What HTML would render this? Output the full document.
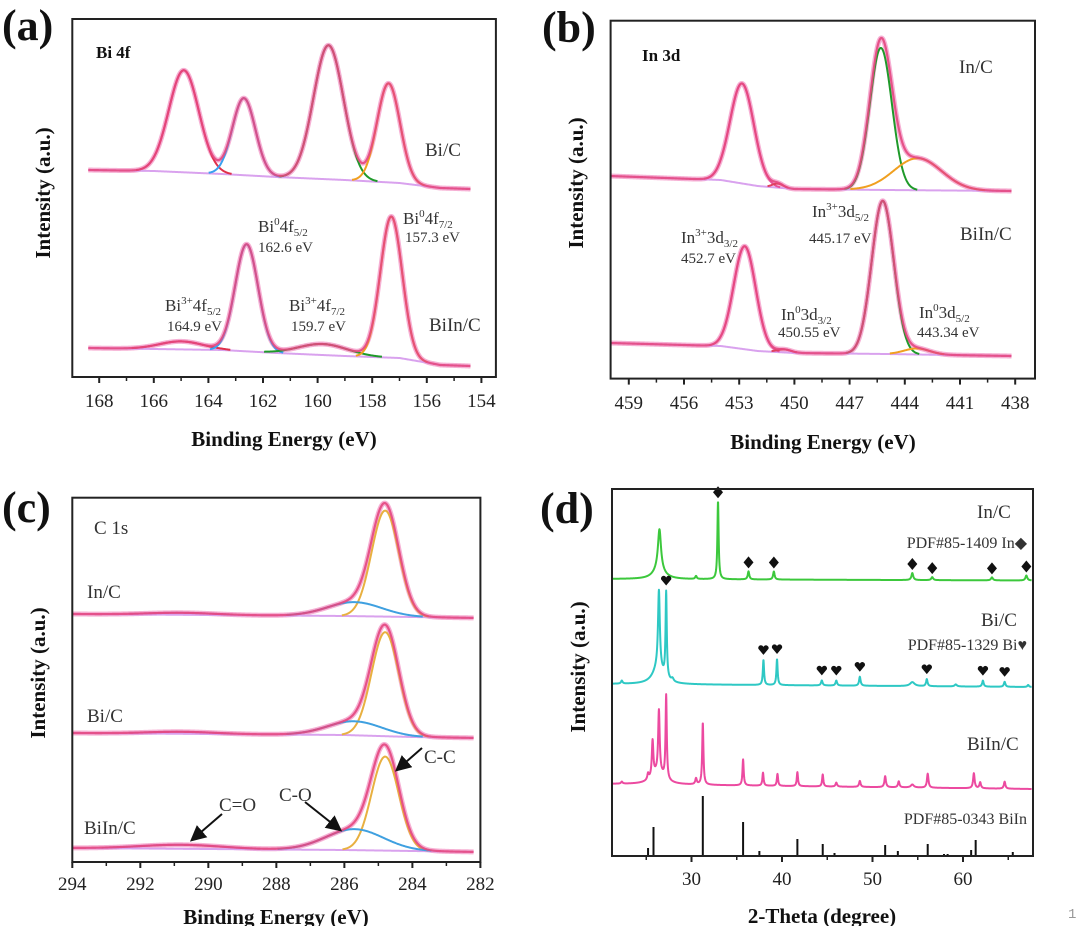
<!DOCTYPE html>
<html><head><meta charset="utf-8"><style>
html,body{margin:0;padding:0;background:#fff;}
svg{display:block;font-family:"Liberation Serif",serif;}
.tl{font-size:19px;fill:#222;}
.ttl{font-size:21px;font-weight:bold;fill:#111;}
.pl{font-size:44px;font-weight:bold;fill:#111;}
.ann{font-size:17px;fill:#333;}
.ev{font-size:15px;fill:#333;}
.lab{font-size:19px;fill:#333;}
</style></head><body>
<svg id="fig" width="1080" height="926" viewBox="0 0 1080 926" xmlns="http://www.w3.org/2000/svg">
<defs><marker id="ah" markerWidth="8" markerHeight="8" refX="6" refY="4" orient="auto"><path d="M0,0 L8,4 L0,8 z" fill="#111"/></marker></defs>
<g id="gA"></g>
<g id="gB"></g>
<g id="gC"></g>
<g id="gD"></g>
<rect x="72.3" y="19" width="423.6" height="358" fill="none" stroke="#222" stroke-width="2"/>
<rect x="610.6" y="20.7" width="424.4" height="357.9" fill="none" stroke="#222" stroke-width="2"/>
<rect x="72.3" y="497.7" width="408.1" height="364.3" fill="none" stroke="#222" stroke-width="2"/>
<rect x="612" y="489" width="421" height="367" fill="none" stroke="#222" stroke-width="2"/>
<text class="pl" x="2" y="40">(a)</text>
<text class="pl" x="542" y="42">(b)</text>
<text class="pl" x="2" y="522">(c)</text>
<text class="pl" x="540" y="523">(d)</text>
<text class="ttl" x="284" y="446" text-anchor="middle">Binding Energy (eV)</text>
<text class="ttl" x="823" y="449" text-anchor="middle">Binding Energy (eV)</text>
<text class="ttl" x="276" y="924" text-anchor="middle">Binding Energy (eV)</text>
<text class="ttl" x="822" y="923" text-anchor="middle">2-Theta (degree)</text>
<text class="ttl" transform="translate(50,193) rotate(-90)" text-anchor="middle">Intensity (a.u.)</text>
<text class="ttl" transform="translate(583,183) rotate(-90)" text-anchor="middle">Intensity (a.u.)</text>
<text class="ttl" transform="translate(45,673) rotate(-90)" text-anchor="middle">Intensity (a.u.)</text>
<text class="ttl" transform="translate(585,667) rotate(-90)" text-anchor="middle">Intensity (a.u.)</text>
<!-- panel a text -->
<text x="96" y="58" font-size="17" font-weight="bold" fill="#111">Bi 4f</text>
<text class="lab" x="425" y="156">Bi/C</text>
<text class="lab" x="429" y="331">BiIn/C</text>
<text class="ann" x="258" y="232">Bi<tspan dy="-7" font-size="11">0</tspan><tspan dy="7">4f</tspan><tspan dy="4" font-size="11">5/2</tspan></text>
<text class="ev" x="258" y="252">162.6 eV</text>
<text class="ann" x="403" y="224">Bi<tspan dy="-7" font-size="11">0</tspan><tspan dy="7">4f</tspan><tspan dy="4" font-size="11">7/2</tspan></text>
<text class="ev" x="405" y="242">157.3 eV</text>
<text class="ann" x="165" y="311">Bi<tspan dy="-7" font-size="11">3+</tspan><tspan dy="7">4f</tspan><tspan dy="4" font-size="11">5/2</tspan></text>
<text class="ev" x="167" y="331">164.9 eV</text>
<text class="ann" x="289" y="311">Bi<tspan dy="-7" font-size="11">3+</tspan><tspan dy="7">4f</tspan><tspan dy="4" font-size="11">7/2</tspan></text>
<text class="ev" x="291" y="331">159.7 eV</text>
<!-- panel b text -->
<text x="642" y="61" font-size="17" font-weight="bold" fill="#111">In 3d</text>
<text class="lab" x="959" y="73">In/C</text>
<text class="lab" x="960" y="240">BiIn/C</text>
<text class="ann" x="812" y="217">In<tspan dy="-7" font-size="11">3+</tspan><tspan dy="7">3d</tspan><tspan dy="4" font-size="11">5/2</tspan></text>
<text class="ev" x="809" y="243">445.17 eV</text>
<text class="ann" x="681" y="243">In<tspan dy="-7" font-size="11">3+</tspan><tspan dy="7">3d</tspan><tspan dy="4" font-size="11">3/2</tspan></text>
<text class="ev" x="681" y="263">452.7 eV</text>
<text class="ann" x="781" y="320">In<tspan dy="-7" font-size="11">0</tspan><tspan dy="7">3d</tspan><tspan dy="4" font-size="11">3/2</tspan></text>
<text class="ev" x="778" y="337">450.55 eV</text>
<text class="ann" x="919" y="318">In<tspan dy="-7" font-size="11">0</tspan><tspan dy="7">3d</tspan><tspan dy="4" font-size="11">5/2</tspan></text>
<text class="ev" x="917" y="337">443.34 eV</text>
<!-- panel c text -->
<text x="94" y="534" font-size="19" fill="#333">C 1s</text>
<text class="lab" x="87" y="598">In/C</text>
<text class="lab" x="87" y="722">Bi/C</text>
<text class="lab" x="84" y="834">BiIn/C</text>
<text class="lab" x="424" y="763">C-C</text>
<text class="lab" x="279" y="801">C-O</text>
<text class="lab" x="219" y="811">C=O</text>
<line x1="422" y1="748" x2="398" y2="769" stroke="#111" stroke-width="2" marker-end="url(#ah)"/>
<line x1="305" y1="802" x2="339" y2="829" stroke="#111" stroke-width="2" marker-end="url(#ah)"/>
<line x1="222" y1="814" x2="193" y2="839" stroke="#111" stroke-width="2" marker-end="url(#ah)"/>
<!-- panel d text -->
<text class="lab" x="977" y="518">In/C</text>
<text x="1027" y="548" font-size="16" fill="#333" text-anchor="end">PDF#85-1409 In◆</text>
<text class="lab" x="981" y="626">Bi/C</text>
<text x="1027" y="650" font-size="16" fill="#333" text-anchor="end">PDF#85-1329 Bi♥</text>
<text class="lab" x="967" y="750">BiIn/C</text>
<text x="1027" y="824" font-size="16" fill="#333" text-anchor="end">PDF#85-0343 BiIn</text>
<text x="1068" y="918" font-size="14" fill="#999" font-family="Liberation Mono, monospace">1</text>
</svg>
<script>
// ---------- Panel (a) Bi 4f data ----------
const aBgE=[168.4,166,163.5,161.5,159,157,155.5,154.4];
const aBgBiC=[207,206,203,200,197,194,189,188];
const aBgBiIn=[29,28,27,24,21,19,12,11];
const aCentBiC=[164.9,162.7,159.6,157.4];
const aAmpBiC=[102,77,134,99];
const aSigBiC=[0.55,0.42,0.55,0.42];
const aCentBiIn=[165.0,162.6,159.8,157.3];
const aAmpBiIn=[8,107,11,141];
const aSigBiIn=[0.8,0.42,0.9,0.4];
const aTicks=[168,166,164,162,160,158,156,154];
// ---------- Panel (b) In 3d data ----------
const bBgE=[460,454,452,450,445,438.2];
const bBgInC=[202.6,198.6,192.6,189.6,188.6,187.6];
const bBgBiIn=[35.6,32.6,27.6,25.6,24.6,22.6];
const bCentInC=[452.85,450.9,445.3,443.3];
const bAmpInC=[100,4,142,32];
const bSigInC=[0.65,0.3,0.6,1.3];
const bCentBiIn=[452.7,450.55,445.2,443.34];
const bAmpBiIn=[103,3,153,6];
const bSigBiIn=[0.6,0.4,0.6,0.7];
const bTicks=[459,456,453,450,447,444,441,438];
// ---------- Panel (c) C 1s data ----------
const cBgE=[294,286,284,282];
const cBgInC=[248,246,245,244];
const cBgBiC=[129,127,125,124];
const cBgBiIn=[14,12,11,10];
const cCent=[284.8,285.7,290.8];
const cAmpInC=[106,14,2];
const cAmpBiC=[104,14,2];
const cAmpBiIn=[94,21,4];
const cSig=[0.4,0.8,1.0];
const cSigBiIn=[0.4,0.85,1.2];
const cTicks=[294,292,290,288,286,284,282];
// ---------- Panel (d) XRD data ----------
const dTicks=[30,40,50,60];
const dInBase=[277,275.5];
const dInPos=[26.46,26.4,30.5,32.93,36.3,39.1,54.4,56.6,63.2,67.0];
const dInAmp=[40,10,3,78,8,8,7,3,3,5];
const dInHw=[0.2,0.7,0.1,0.08,0.1,0.1,0.12,0.12,0.12,0.12];
const dBiBase=[172,169];
const dBiPos=[26.4,26.3,27.2,22.3,27.9,37.95,39.45,44.4,46.0,48.6,54.4,56.0,59.2,62.2,64.6,67.2];
const dBiAmp=[78,16,86,3,3,25,26,5,5,9,4,7,2,6,5,2];
const dBiHw=[0.12,0.7,0.08,0.1,0.15,0.08,0.08,0.1,0.1,0.1,0.3,0.1,0.15,0.1,0.1,0.1];
const dBiInBase=[72,67];
const dBiInPos=[22.3,25.2,25.7,26.3,26.4,27.2,30.5,31.25,35.7,37.9,39.5,41.7,44.5,46.0,48.6,51.4,52.9,54.4,56.1,61.2,61.9,64.6];
const dBiInAmp=[2,6,36,12,62,84,6,62,26,13,12,14,12,4,6,11,6,3,14,15,6,7];
const dBiInHw=[0.1,0.1,0.1,0.8,0.1,0.08,0.1,0.08,0.08,0.08,0.08,0.08,0.08,0.1,0.1,0.1,0.1,0.2,0.1,0.1,0.1,0.1];
const dInMarks=[32.93,36.3,39.1,54.4,56.6,63.2,67.0];
const dBiMarks=[27.2,37.95,39.45,44.4,46.0,48.6,56.0,62.2,64.6];
const dStickPos=[25.2,25.8,31.25,35.7,37.5,41.7,44.5,45.8,51.4,52.8,56.1,57.9,58.3,60.9,61.4,65.5];
const dStickH=[8,29,60,34,5,17,12,3,11,5,12,2,2,6,16,4];

const NS='http://www.w3.org/2000/svg';
function mk(tag,attrs,parent){const e=document.createElementNS(NS,tag);for(const k in attrs)e.setAttribute(k,attrs[k]);parent.appendChild(e);return e;}
function lin(d0,d1,r0,r1){return v=>r0+(v-d0)*(r1-r0)/(d1-d0);}
function interp(x,E,B){for(let i=0;i<E.length-1;i++){const a=E[i],b=E[i+1];if((x-a)*(x-b)<=0){return B[i]+(B[i+1]-B[i])*(x-a)/(b-a);}}return x>Math.max(E[0],E[E.length-1])===(E[0]>E[1])?B[0]:B[B.length-1];}
function g(x,c,s){return Math.exp(-(x-c)*(x-c)/(2*s*s));}
function lor(x,c,w){const t=(x-c)/w;return 1/(1+t*t);}
function pathD(pts){return pts.map((p,i)=>(i?'L':'M')+p[0].toFixed(2)+','+p[1].toFixed(2)).join('');}

function ticks(parent,vals,minor,sx,yb,ylab,name){
  vals.forEach(v=>{
    const t=mk('line',{x1:sx(v),x2:sx(v),y1:yb,y2:yb+6,stroke:'#222','stroke-width':2},parent);
    
    
    const l=mk('text',{x:sx(v),y:ylab,'text-anchor':'middle',class:'tl'},parent);
    l.textContent=String(v);
    
    
  });
  minor.forEach(v=>{
    const t=mk('line',{x1:sx(v),x2:sx(v),y1:yb,y2:yb+4,stroke:'#222','stroke-width':1.5},parent);
    
    
  });
}

function xps(parent,sx,sy,e0,e1,bgE,bg,cent,amp,sig,colors,name){
  const n=600,pts=[],bgp=[];
  for(let i=0;i<=n;i++){const e=e0+(e1-e0)*i/n;const b=interp(e,bgE,bg);let s=0;cent.forEach((c,k)=>{s+=amp[k]*g(e,c,sig[k]);});pts.push([sx(e),sy(b+s)]);bgp.push([sx(e),sy(b)]);}
  const halo=mk('path',{d:pathD(pts),fill:'none',stroke:'#f6b0d4','stroke-width':5,'stroke-linejoin':'round'},parent);
  
  
  const bgl=mk('path',{d:pathD(bgp),fill:'none',stroke:'#d9a2ee','stroke-width':2},parent);
  
  
  cent.forEach((c,k)=>{
    const cp=[];
    for(let i=0;i<=n;i++){const e=e0+(e1-e0)*i/n;const v=amp[k]*g(e,c,sig[k]);if(v>0.6)cp.push([sx(e),sy(interp(e,bgE,bg)+v)]);}
    if(cp.length<2)return;
    const p=mk('path',{d:pathD(cp),fill:'none',stroke:colors[k],'stroke-width':2},parent);
    
    
  });
  const env=mk('path',{d:pathD(pts),fill:'none',stroke:'#e4487f','stroke-width':2.2,'stroke-opacity':0.9},parent);
  
  
}

// Panel A
(function(){
  const P=document.getElementById('gA');
  const sx=lin(168,154,99.2,481.4), sy=v=>377-v;
  ticks(P,aTicks,[167,165,163,161,159,157,155],sx,377,407,'panel-a-x');
  const col=['#e0304a','#3aa0f0','#1f9a2a','#f0a020'];
  xps(P,sx,sy,168.4,154.4,aBgE,aBgBiC,aCentBiC,aAmpBiC,aSigBiC,col,'bi-c');
  xps(P,sx,sy,168.4,154.4,aBgE,aBgBiIn,aCentBiIn,aAmpBiIn,aSigBiIn,col,'biin-c');
})();
// Panel B
(function(){
  const P=document.getElementById('gB');
  const sx=lin(459,438,628.8,1015.2), sy=v=>378.6-v;
  ticks(P,bTicks,[457.5,454.5,451.5,448.5,445.5,442.5,439.5],sx,378.6,409,'panel-b-x');
  const col=['#e8509a','#e04060','#1f9a2a','#f0a020'];
  xps(P,sx,sy,460,438.2,bBgE,bBgInC,bCentInC,bAmpInC,bSigInC,col,'in-c');
  xps(P,sx,sy,460,438.2,bBgE,bBgBiIn,bCentBiIn,bAmpBiIn,bSigBiIn,col,'biin-c-b');
})();
// Panel C
(function(){
  const P=document.getElementById('gC');
  const sx=lin(294,282,72.3,480.4), sy=v=>862-v;
  ticks(P,cTicks,[293,291,289,287,285,283],sx,862,890,'panel-c-x');
  const col=['#e8b040','#3fa0e0','#c070c0'];
  xps(P,sx,sy,294,282.2,cBgE,cBgInC,cCent,cAmpInC,cSig,col,'in-c-c1s');
  xps(P,sx,sy,294,282.2,cBgE,cBgBiC,cCent,cAmpBiC,cSig,col,'bi-c-c1s');
  xps(P,sx,sy,294,282.2,cBgE,cBgBiIn,cCent,cAmpBiIn,cSigBiIn,col,'biin-c-c1s');
})();
// Panel D
(function(){
  const P=document.getElementById('gD');
  const sx=lin(30,60,691.5,963), sy=v=>856-v;
  ticks(P,dTicks,[25,35,45,55,65],sx,856,885,'panel-d-x');
  const x0=21.3,x1=67.6;
  function val(x,base,pos,amp,hw){let s=base[0]+(base[1]-base[0])*(x-x0)/(x1-x0);pos.forEach((p,k)=>{s+=amp[k]*lor(x,p,hw[k]);});return s;}
  function series(base,pos,amp,hw,color,name){
    const pts=[];for(let x=x0;x<=x1;x+=0.02)pts.push([sx(x),sy(val(x,base,pos,amp,hw))]);
    const p=mk('path',{d:pathD(pts),fill:'none',stroke:color,'stroke-width':2,'stroke-linejoin':'round'},P);
    
    
  }
  series(dInBase,dInPos,dInAmp,dInHw,'#3cc83c','xrd-in-c');
  series(dBiBase,dBiPos,dBiAmp,dBiHw,'#2ec8c4','xrd-bi-c');
  series(dBiInBase,dBiInPos,dBiInAmp,dBiInHw,'#ec4aa0','xrd-biin-c');
  dInMarks.forEach(m=>{
    const y=sy(val(m,dInBase,dInPos,dInAmp,dInHw))-9,x=sx(m);
    const d=mk('path',{d:`M${x},${y-6}L${x+5},${y}L${x},${y+6}L${x-5},${y}Z`,fill:'#111'},P);
    
    
  });
  dBiMarks.forEach(m=>{
    const y=sy(val(m,dBiBase,dBiPos,dBiAmp,dBiHw))-10,x=sx(m);
    const h=mk('path',{d:`M${x},${y+5}L${x-5},${y-1}A2.6,2.6 0 0 1 ${x},${y-3}A2.6,2.6 0 0 1 ${x+5},${y-1}Z`,fill:'#111'},P);
    
    
  });
  dStickPos.forEach((p,k)=>{
    const l=mk('line',{x1:sx(p),x2:sx(p),y1:sy(0),y2:sy(dStickH[k]),stroke:'#111','stroke-width':2},P);
    
    
  });
})();
</script>
</body></html>
